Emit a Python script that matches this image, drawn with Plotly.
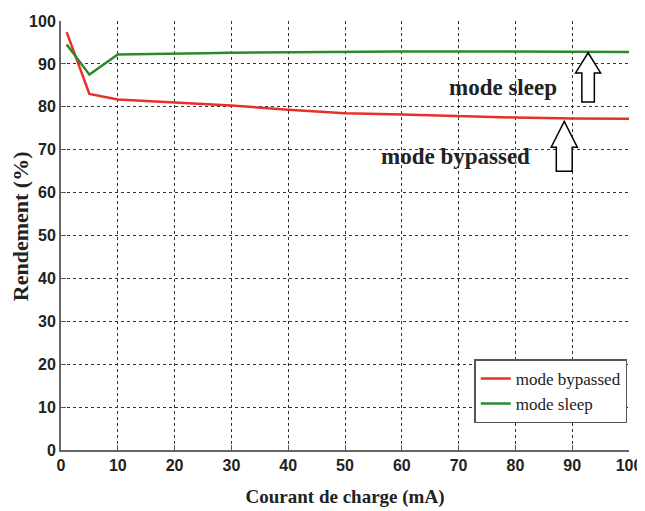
import plotly.graph_objects as go

x_bypassed = [1, 5, 10, 20, 30, 40, 50, 60, 70, 80, 90, 100]
y_bypassed = [97.4, 83.0, 81.7, 81.0, 80.3, 79.3, 78.5, 78.2, 77.8, 77.5, 77.3, 77.2]
x_sleep = [1, 5, 10, 20, 25, 30, 40, 50, 60, 70, 80, 90, 100]
y_sleep = [94.5, 87.5, 92.2, 92.3, 92.5, 92.6, 92.7, 92.9, 92.9, 92.9, 92.9, 92.9, 92.8]
ticks = [0, 10, 20, 30, 40, 50, 60, 70, 80, 90, 100]

fig = go.Figure()
fig.add_trace(go.Scatter(x=x_bypassed, y=y_bypassed, mode="lines", name="mode bypassed",
                         line=dict(color="#e8302a", width=2.5)))
fig.add_trace(go.Scatter(x=x_sleep, y=y_sleep, mode="lines", name="mode sleep",
                         line=dict(color="#2a8a2a", width=2.5)))

def up_arrow(xc, tip, head_base, bottom, head_hw, shaft_hw):
    return (f"M {xc} {tip} L {xc+head_hw} {head_base} L {xc+shaft_hw} {head_base} "
            f"L {xc+shaft_hw} {bottom} L {xc-shaft_hw} {bottom} L {xc-shaft_hw} {head_base} "
            f"L {xc-head_hw} {head_base} Z")

fig.add_shape(type="path", path=up_arrow(92.8, 92.6, 87.9, 81.1, 2.2, 1.1),
              xref="x", yref="y", line=dict(color="black", width=1.5), fillcolor="white")
fig.add_shape(type="path", path=up_arrow(88.6, 76.6, 70.6, 65.0, 2.3, 1.4),
              xref="x", yref="y", line=dict(color="black", width=1.5), fillcolor="white")

fig.add_annotation(x=77.8, y=84.4, text="<b>mode sleep</b>", showarrow=False,
                   font=dict(family="Liberation Serif", size=23, color="#222"))
fig.add_annotation(x=69.5, y=68.3, text="<b>mode bypassed</b>", showarrow=False,
                   font=dict(family="Liberation Serif", size=23, color="#222"))
fig.add_annotation(x=-0.072, y=0.522, xref="paper", yref="paper", text="<b>Rendement (%)</b>",
                   textangle=-90, showarrow=False, xanchor="center", yanchor="middle",
                   font=dict(family="Liberation Serif", size=22, color="#222"))

axis_common = dict(range=[0, 100], tickvals=ticks, showgrid=True, gridcolor="#333",
                   griddash="dot", gridwidth=1, showline=True, linecolor="#666",
                   linewidth=2, ticks="inside", ticklen=5, tickcolor="#555",
                   zeroline=False, automargin=False,
                   tickfont=dict(family="Liberation Sans Narrow, Liberation Sans", size=16,
                                 color="#222", weight="bold"))

fig.update_layout(
    width=637, height=503,
    margin=dict(l=53, r=16, t=13, b=61),
    paper_bgcolor="white", plot_bgcolor="white",
    xaxis=dict(**axis_common,
               title=dict(text="<b>Courant de charge (mA)</b>", standoff=16,
                          font=dict(family="Liberation Serif", size=19, color="#222"))),
    yaxis=dict(**axis_common),
    legend=dict(x=0.997, y=0.062, xanchor="right", yanchor="bottom",
                bgcolor="white", bordercolor="#555", borderwidth=1.5,
                font=dict(family="Liberation Serif", size=17, color="#222"),
                itemwidth=30, tracegroupgap=0),
    showlegend=True,
)
fig.write_html("out.html")
